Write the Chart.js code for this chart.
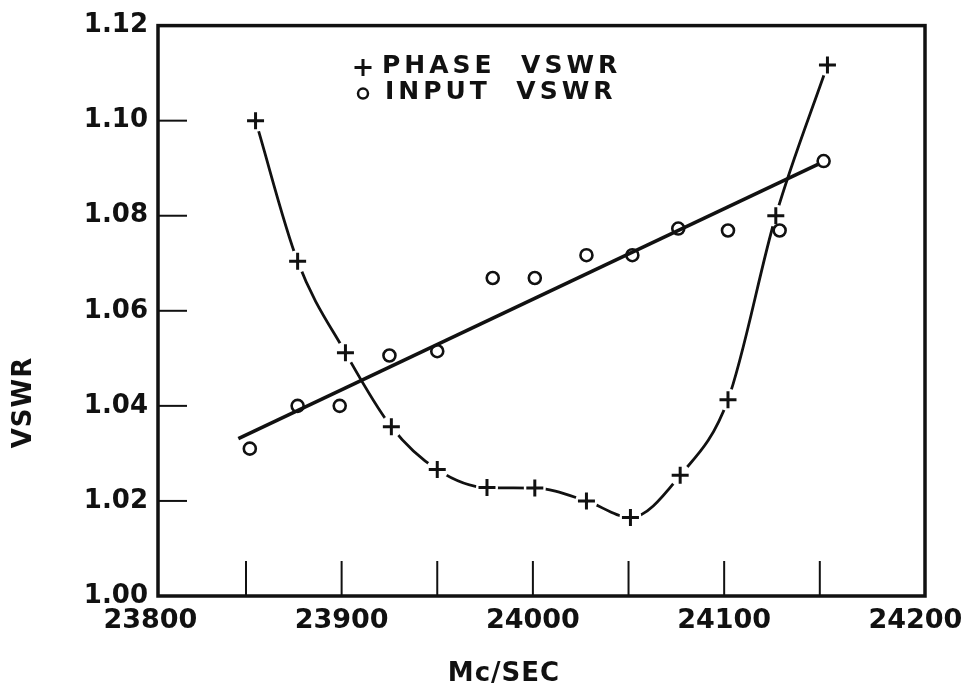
<!DOCTYPE html>
<html>
<head>
<meta charset="utf-8">
<title>Phase and input VSWR vs frequency</title>
<script src="https://cdn.jsdelivr.net/npm/chart.js@4.4.1/dist/chart.umd.min.js"></script>
<style>
  html, body { margin: 0; padding: 0; background: #fff; }
  canvas { display: block; }
</style>
</head>
<body>
<canvas id="vswrChart" width="973" height="693"></canvas>
<script>
// --- data ---
const phaseFreq = [23855, 23877, 23902, 23926, 23950, 23976, 24001, 24028, 24051, 24077, 24102, 24127, 24154];
const phaseVswr = [1.1000, 1.0704, 1.0512, 1.0356, 1.0266, 1.0228, 1.0227, 1.0200, 1.0165, 1.0254, 1.0413, 1.0800, 1.1117];

const inputFreq = [23852, 23877, 23899, 23925, 23950, 23979, 24001, 24028, 24052, 24076, 24102, 24129, 24152];
const inputVswr = [1.0310, 1.0400, 1.0400, 1.0506, 1.0515, 1.0669, 1.0669, 1.0717, 1.0717, 1.0773, 1.0769, 1.0769, 1.0915];

// straight line drawn through the input points
const fitFreq = [23846, 24149];
const fitVswr = [1.0331, 1.0908];

const freqTicks = [23800, 23900, 24000, 24100, 24200];
const freqMinorTicks = [23850, 23900, 23950, 24000, 24050, 24100, 24150];
const vswrTicks = [1.00, 1.02, 1.04, 1.06, 1.08, 1.10, 1.12];

const FONT = "'DejaVu Sans', sans-serif";
const INK = '#111';

const toPoints = (xs, ys) => xs.map((x, i) => ({ x, y: ys[i] }));

// --- frame, inner ticks, axis titles and key ---
const framePlugin = {
    id: 'frame',
    afterDatasetsDraw(chart) {
        const { ctx, chartArea: a, scales } = chart;
        ctx.save();
        ctx.strokeStyle = INK;
        ctx.lineCap = 'square';

        // inner tick marks
        ctx.lineWidth = 2;
        freqMinorTicks.forEach(v => {
            const px = scales.x.getPixelForValue(v);
            ctx.beginPath();
            ctx.moveTo(px, a.bottom);
            ctx.lineTo(px, a.bottom - 34);
            ctx.stroke();
        });
        vswrTicks.slice(1, -1).forEach(v => {
            const py = scales.y.getPixelForValue(v);
            ctx.beginPath();
            ctx.moveTo(a.left, py);
            ctx.lineTo(a.left + 28, py);
            ctx.stroke();
        });

        // box
        ctx.lineWidth = 3.5;
        ctx.strokeRect(a.left, a.top, a.right - a.left, a.bottom - a.top);
        ctx.restore();
    },
    afterDraw(chart) {
        const { ctx, chartArea: a } = chart;
        ctx.save();
        ctx.fillStyle = INK;
        ctx.strokeStyle = INK;

        // axis titles
        ctx.font = `bold 26px ${FONT}`;
        ctx.textAlign = 'center';
        ctx.textBaseline = 'middle';
        ctx.letterSpacing = '1px';
        ctx.fillText('Mc/SEC', a.left + 346, a.bottom + 78);

        ctx.save();
        ctx.translate(24, a.top + 377);
        ctx.rotate(-Math.PI / 2);
        ctx.fillText('VSWR', 0, 0);
        ctx.restore();

        // key
        const kx = a.left + 205, ky = a.top + 42;
        ctx.lineWidth = 3;
        ctx.beginPath();
        ctx.moveTo(kx - 8.5, ky); ctx.lineTo(kx + 8.5, ky);
        ctx.moveTo(kx, ky - 8.5); ctx.lineTo(kx, ky + 8.5);
        ctx.stroke();
        ctx.lineWidth = 2.5;
        ctx.beginPath();
        ctx.arc(kx, ky + 26, 5, 0, Math.PI * 2);
        ctx.stroke();

        ctx.font = `bold 25px ${FONT}`;
        ctx.textAlign = 'left';
        ctx.letterSpacing = '4px';
        ctx.fillText('PHASE  VSWR', kx + 19, ky - 1);
        ctx.fillText('INPUT  VSWR', kx + 22, ky + 25);
        ctx.restore();
    }
};

new Chart(document.getElementById('vswrChart'), {
    type: 'scatter',
    data: {
        datasets: [
            {
                // phase curve
                data: toPoints(phaseFreq, phaseVswr),
                showLine: true,
                borderColor: INK,
                borderWidth: 2.8,
                cubicInterpolationMode: 'monotone',
                pointRadius: 0,
                order: 5
            },
            {
                // gaps in the curve round each phase marker
                data: toPoints(phaseFreq, phaseVswr),
                pointStyle: 'circle',
                pointRadius: 11,
                backgroundColor: '#fff',
                borderWidth: 0,
                order: 4
            },
            {
                data: toPoints(fitFreq, fitVswr),
                showLine: true,
                borderColor: INK,
                borderWidth: 3.6,
                pointRadius: 0,
                order: 3
            },
            {
                label: 'INPUT VSWR',
                data: toPoints(inputFreq, inputVswr),
                pointStyle: 'circle',
                pointRadius: 6,
                borderColor: INK,
                backgroundColor: 'rgba(0,0,0,0)',
                pointBorderWidth: 2.6,
                order: 2
            },
            {
                label: 'PHASE VSWR',
                data: toPoints(phaseFreq, phaseVswr),
                pointStyle: 'cross',
                pointRadius: 8.5,
                borderColor: INK,
                pointBorderWidth: 3,
                order: 1
            }
        ]
    },
    options: {
        responsive: false,
        animation: false,
        events: [],
        layout: { padding: { top: 21, right: 48, left: 0, bottom: 0 } },
        plugins: {
            legend: { display: false },
            tooltip: { enabled: false }
        },
        scales: {
            x: {
                type: 'linear',
                min: 23804,
                max: 24205,
                grid: { display: false, drawTicks: false },
                border: { display: false },
                afterBuildTicks: s => { s.ticks = freqTicks.map(v => ({ value: v })); },
                afterFit: s => { s.height = 97; },
                ticks: {
                    autoSkip: false,
                    maxRotation: 0,
                    padding: 9,
                    color: INK,
                    font: { family: FONT, size: 27, weight: 'bold' },
                    callback: v => String(v)
                }
            },
            y: {
                min: 1.00,
                max: 1.12,
                grid: { display: false, drawTicks: false },
                border: { display: false },
                afterBuildTicks: s => { s.ticks = vswrTicks.map(v => ({ value: v })); },
                afterFit: s => { s.width = 158; },
                ticks: {
                    autoSkip: false,
                    padding: 10,
                    color: INK,
                    font: { family: FONT, size: 26, weight: 'bold' },
                    callback: v => Number(v).toFixed(2)
                }
            }
        }
    },
    plugins: [framePlugin]
});
</script>
</body>
</html>
